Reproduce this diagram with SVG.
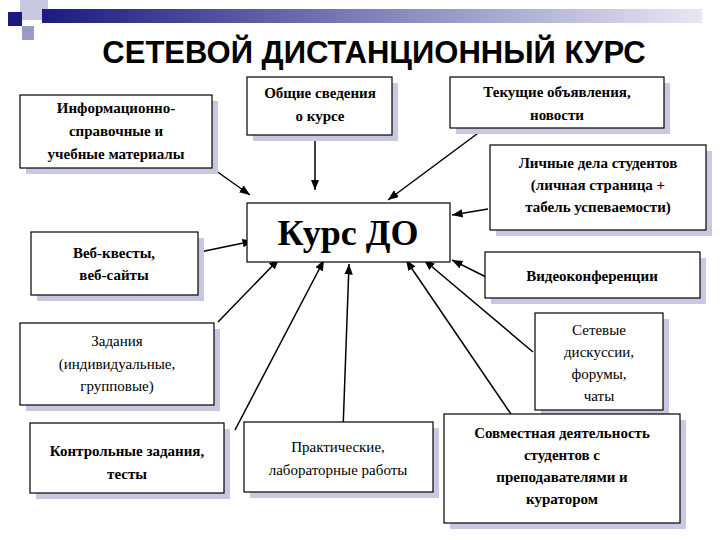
<svg xmlns="http://www.w3.org/2000/svg" width="720" height="540" viewBox="0 0 720 540">
<defs>
<linearGradient id="bar" x1="0" x2="1" y1="0" y2="0"><stop offset="0" stop-color="#1a1a80"/><stop offset="1" stop-color="#e8e8f4"/></linearGradient>
<marker id="ah" viewBox="0 0 10 10" refX="10" refY="5" markerWidth="7" markerHeight="7" orient="auto"><path d="M0,1 L10,5 L0,9 z" fill="#000"/></marker>
</defs>
<style>
.sh{fill:#c8c8e0}
.bx{fill:#fff;stroke:#000;stroke-width:1.2}
.c line{stroke:#000;stroke-width:1.5;marker-end:url(#ah)}
.sf{font-family:'Liberation Serif','Times New Roman','DejaVu Serif',serif}
</style>
<rect width="720" height="540" fill="#fff"/>
<g id="decor">
<rect x="20" y="0" width="28" height="20" fill="#c8c8e0"/>
<rect x="8" y="12" width="14" height="14" fill="#1a1a80"/>
<rect x="22" y="26" width="12" height="14" fill="#9a9ac8"/>
<rect x="42" y="9" width="660" height="14" fill="url(#bar)"/>
</g>
<text x="374" y="63" font-family="Liberation Sans, sans-serif" font-weight="bold" font-size="31" text-anchor="middle">СЕТЕВОЙ ДИСТАНЦИОННЫЙ КУРС</text>
<g class="c">
<line x1="212" y1="168" x2="250" y2="195"/>
<line x1="315" y1="135" x2="315" y2="190"/>
<line x1="485" y1="128" x2="388" y2="200"/>
<line x1="488" y1="209" x2="452" y2="215"/>
<line x1="486" y1="277" x2="452" y2="260"/>
<line x1="200" y1="252" x2="253" y2="241"/>
<line x1="218" y1="322" x2="279" y2="259"/>
<line x1="235" y1="430" x2="324" y2="260"/>
<line x1="343" y1="430" x2="349" y2="264"/>
<line x1="513" y1="417" x2="406" y2="260"/>
<line x1="533" y1="352" x2="424" y2="260"/>
</g>
<g class="sf" font-size="15" text-anchor="middle" fill="#000">
<g id="info" font-weight="bold"><rect class="sh" x="26" y="101" width="192" height="73"/><rect class="bx" x="20" y="95" width="192" height="73"/>
<text class="sf" x="116" y="113">Информационно-</text><text class="sf" x="116" y="136">справочные и</text><text class="sf" x="116" y="159">учебные материалы</text></g>
<g id="obshie" font-weight="bold"><rect class="sh" x="253" y="83" width="145" height="58"/><rect class="bx" x="247" y="77" width="145" height="58"/>
<text class="sf" x="320" y="98">Общие сведения</text><text class="sf" x="320" y="121">о курсе</text></g>
<g id="tekushie" font-weight="bold"><rect class="sh" x="456" y="83" width="214" height="51"/><rect class="bx" x="450" y="77" width="214" height="51"/>
<text class="sf" x="557" y="97">Текущие объявления,</text><text class="sf" x="557" y="120">новости</text></g>
<g id="lichnye" font-weight="bold"><rect class="sh" x="496" y="151" width="216" height="85"/><rect class="bx" x="490" y="145" width="216" height="85"/>
<text class="sf" x="598" y="168">Личные дела студентов</text><text class="sf" x="598" y="190">(личная страница +</text><text class="sf" x="598" y="212">табель успеваемости)</text></g>
<g id="kurs"><rect class="bx" x="247" y="203" width="203" height="59"/>
<text class="sf" x="348" y="245" font-weight="bold" font-size="36">Курс  ДО</text></g>
<g id="veb" font-weight="bold"><rect class="sh" x="37" y="238" width="167" height="63"/><rect class="bx" x="31" y="232" width="167" height="63"/>
<text class="sf" x="114" y="258">Веб-квесты,</text><text class="sf" x="114" y="280">веб-сайты</text></g>
<g id="video" font-weight="bold"><rect class="sh" x="491" y="258" width="215" height="46"/><rect class="bx" x="485" y="252" width="215" height="46"/>
<text class="sf" x="592" y="281">Видеоконференции</text></g>
<g id="zadaniya"><rect class="sh" x="26" y="329" width="194" height="82"/><rect class="bx" x="20" y="323" width="194" height="82"/>
<text class="sf" x="117" y="346">Задания</text><text class="sf" x="117" y="369">(индивидуальные,</text><text class="sf" x="117" y="391">групповые)</text></g>
<g id="setevye"><rect class="sh" x="541" y="319" width="128" height="97"/><rect class="bx" x="535" y="313" width="128" height="97"/>
<text class="sf" x="599" y="335">Сетевые</text><text class="sf" x="599" y="357">дискуссии,</text><text class="sf" x="599" y="379">форумы,</text><text class="sf" x="599" y="401">чаты</text></g>
<g id="kontrol" font-weight="bold"><rect class="sh" x="36" y="429" width="194" height="70"/><rect class="bx" x="30" y="423" width="194" height="70"/>
<text class="sf" x="127" y="456">Контрольные задания,</text><text class="sf" x="127" y="479">тесты</text></g>
<g id="prakt"><rect class="sh" x="250" y="428" width="189" height="70"/><rect class="bx" x="244" y="422" width="189" height="70"/>
<text class="sf" x="338" y="452">Практические,</text><text class="sf" x="338" y="475">лабораторные работы</text></g>
<g id="sovm" font-weight="bold"><rect class="sh" x="450" y="420" width="236" height="109"/><rect class="bx" x="444" y="414" width="236" height="109"/>
<text class="sf" x="562" y="438">Совместная деятельность</text><text class="sf" x="562" y="460">студентов с</text><text class="sf" x="562" y="482">преподавателями и</text><text class="sf" x="562" y="504">куратором</text></g>
</g>
</svg>
